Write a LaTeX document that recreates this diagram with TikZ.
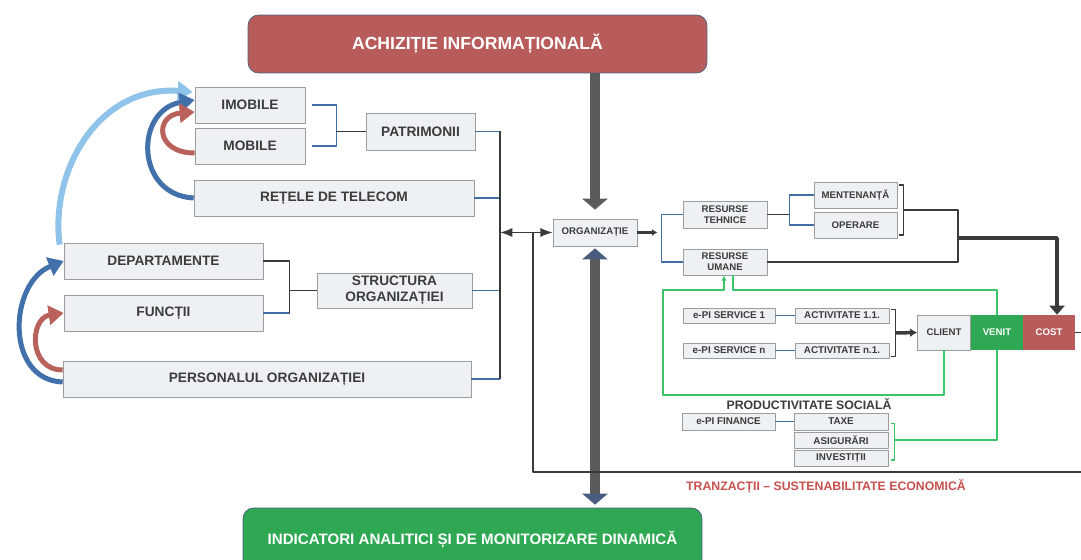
\documentclass[tikz,border=0pt]{standalone}
\usepackage{fontspec}
\setmainfont{Liberation Sans}
\usetikzlibrary{arrows.meta, calc}
\definecolor{titlered}{HTML}{B75C5B}
\definecolor{indgreen}{HTML}{2EA853}
\definecolor{boxfill}{HTML}{EEF1F3}
\definecolor{boxline}{HTML}{9C9C9C}
\definecolor{linkblue}{HTML}{3F6FA3}
\definecolor{linedark}{HTML}{3A3A3A}
\definecolor{fatgray}{HTML}{5B5B5B}
\definecolor{headblue}{HTML}{4A5C7E}
\definecolor{flowgreen}{HTML}{3BC46A}
\definecolor{arrowlight}{HTML}{8FC3EA}
\definecolor{arrowdark}{HTML}{4170AA}
\definecolor{arrowred}{HTML}{B9625C}
\definecolor{textred}{HTML}{C5504E}
\definecolor{textgray}{HTML}{3C3C3C}

\begin{document}
\begin{tikzpicture}[x=0.02cm, y=-0.02cm, >=Latex, line join=round,
	box/.style={draw=boxline, fill=boxfill, inner sep=0pt, text=textgray, align=center,
		font=\fontsize{7.8}{9}\selectfont\bfseries},
	smallbox/.style={box, font=\fontsize{5.5}{6.4}\selectfont\bfseries},
	tinybox/.style={box, font=\fontsize{5.6}{6.4}\selectfont\bfseries},
	banner/.style={draw=headblue, rounded corners=6pt, text=white, inner sep=0pt,
		minimum width=9.18cm},
	link/.style={draw=linkblue, line width=0.9pt},
	trunk/.style={draw=linedark, line width=0.9pt},
	greenlink/.style={draw=flowgreen, line width=0.9pt},
	heavy/.style={draw=linedark, line width=2pt},
	fat/.style={draw=fatgray, line width=0.2cm},
	swoosh/.style={line width=0.1cm, -{Triangle[width=0.38cm,length=0.3cm]}}]
\useasboundingbox (0,0) rectangle (1081,560);
%========================
% banners
%========================
\node[banner, fill=titlered, minimum height=1.16cm, font=\fontsize{10}{12}\selectfont\bfseries]
	(achizitie) at (477.5,44) {ACHIZIȚIE INFORMAȚIONALĂ};
\node[banner, fill=indgreen, minimum height=1.28cm, font=\fontsize{8.6}{10}\selectfont\bfseries]
	(indicatori) at (472.5,540) {INDICATORI ANALITICI ȘI DE MONITORIZARE DINAMICĂ};

%========================
% Left: patrimony and structure
%========================
\node[box, minimum width=2.2cm, minimum height=0.72cm] (imobile) at (250,105) {IMOBILE};
\node[box, minimum width=2.2cm, minimum height=0.72cm] (mobile) at (250,146) {MOBILE};
\node[box, minimum width=2.18cm, minimum height=0.74cm] (patrimonii) at (420.5,131.5) {PATRIMONII};
\node[box, minimum width=5.6cm, minimum height=0.72cm] (retele) at (334,198) {REȚELE DE TELECOM};
\node[box, minimum width=3.98cm, minimum height=0.72cm] (departamente) at (163.5,261) {DEPARTAMENTE};
\node[box, minimum width=3.98cm, minimum height=0.72cm] (functii) at (163.5,313) {FUNCȚII};
\node[box, minimum width=3.1cm, minimum height=0.7cm] (structura) at (394.5,290.5) {STRUCTURA\\ORGANIZAȚIEI};
\node[box, minimum width=8.16cm, minimum height=0.72cm] (personalul) at (267,379) {PERSONALUL ORGANIZAȚIEI};

% brackets
\draw[link] ([xshift=0.14cm]imobile.east) -- ++(24,0) |- ([xshift=0.14cm]mobile.east);
\draw[trunk] (patrimonii.west) -- ++(-30,0);
\draw[trunk] (departamente.east) -- ++(26,0) |- (functii.east);
\draw[trunk] (structura.west) -- ++(-28,0);
\draw[link] (functii.east) -- ++(26,0);

% bus to organization
\coordinate (bus) at (500,0);
\coordinate (loop) at (533,0);
\foreach \n in {patrimonii, retele, structura, personalul}
	\draw[link] (\n.east) -- (\n.east -| bus);
\draw[trunk] (patrimonii.east -| bus) -- (personalul.east -| bus);

% curved arrows
\draw[swoosh, arrowlight, line width=0.12cm] ([shift={(-4,2)}]departamente.north west)
	.. controls +(-10,-75) and +(-93,-7) .. ([shift={(-2,-13)}]imobile.west);
\draw[swoosh, arrowdark] (retele.west)
	.. controls +(-59,-3) and +(-60,10) .. ([shift={(0,-5)}]imobile.west);
\draw[swoosh, arrowred] ([shift={(0,7)}]mobile.west)
	.. controls +(-40,0) and +(-40,3) .. ([shift={(0,7)}]imobile.west);
\draw[swoosh, arrowdark] ([shift={(0,3)}]personalul.west)
	.. controls +(-58,-2) and +(-55,22) .. (departamente.west);
\draw[swoosh, arrowred] ([shift={(0,-9)}]personalul.west)
	.. controls +(-35,0) and +(-34,5) .. (functii.west);

%========================
% Centre: organization
%========================
\node[smallbox, minimum width=1.68cm, minimum height=0.54cm] (org) at (595,232.5) {ORGANIZAȚIE};
\draw[fat, -{Triangle[width=0.5cm,length=0.22cm]}, shorten >=0.18cm]
	(org.north |- achizitie.south) -- (org.north);
\draw[fat, {Triangle[width=0.5cm,length=0.22cm,color=headblue]}-{Triangle[width=0.5cm,length=0.22cm,color=headblue]}]
	([yshift=-0.04cm]org.south) -- ([yshift=0.06cm]org.south |- indicatori.north);
\draw[trunk, ->] (org.west -| loop) -- (org.west);
\draw[trunk, ->] (org.west -| loop) -- (org.west -| bus);

%========================
% Right: resources
%========================
\node[smallbox, minimum width=1.68cm, minimum height=0.54cm] (rtehnice) at (725,214.5) {RESURSE\\TEHNICE};
\node[smallbox, minimum width=1.68cm, minimum height=0.52cm] (rumane) at (725,262) {RESURSE\\UMANE};
\node[smallbox, minimum width=1.66cm, minimum height=0.52cm] (mentenanta) at (855.5,195) {MENTENANȚĂ};
\node[smallbox, minimum width=1.66cm, minimum height=0.52cm] (operare) at (855.5,225) {OPERARE};

\draw[heavy, -{Latex[length=3pt,width=4pt]}] (org.east) -- ++(20,0);
\draw[link] (rtehnice.west) -- ++(-21,0) |- (rumane.west);
\draw[trunk] (rtehnice.east) -- ++(23,0);
\draw[link] (mentenanta.west) -- ++(-24,0) |- (operare.west);
\draw[trunk] ([shift={(2,-10)}]mentenanta.east) -- ++(4,0) |- ([shift={(2,10)}]operare.east);

\node[tinybox, minimum width=1.84cm, minimum height=0.3cm] (service1) at (729,315.5) {e-PI SERVICE 1};
\node[tinybox, minimum width=1.88cm, minimum height=0.3cm] (activ1) at (842,315.5) {ACTIVITATE 1.1.};
\node[tinybox, minimum width=1.84cm, minimum height=0.3cm] (servicen) at (729,350.5) {e-PI SERVICE n};
\node[tinybox, minimum width=1.88cm, minimum height=0.3cm] (activn) at (842,350.5) {ACTIVITATE n.1.};
\draw[link] (service1.east) -- (activ1.west);
\draw[link] (servicen.east) -- (activn.west);
\draw[trunk] ([shift={(2,-6)}]activ1.east) -- ++(4,0) |- ([shift={(2,6)}]activn.east);

% client / venit / cost
\node[smallbox, minimum width=1.06cm, minimum height=0.7cm] (client) at (944,332.5) {CLIENT};
\node[smallbox, draw=none, fill=indgreen, text=white, minimum width=1.04cm, minimum height=0.7cm]
	(venit) at (997,332.5) {VENIT};
\node[smallbox, draw=none, fill=titlered, text=white, minimum width=1.04cm, minimum height=0.7cm]
	(cost) at (1049,332.5) {COST};
\draw[heavy, -{Latex[length=4pt,width=5pt]}] ($(activ1.east)!.5!(activn.east)+(6,0)$) -- (client.west);

\coordinate (merge) at (958,238);
\draw[trunk] ($(mentenanta.east)!.5!(operare.east)+(6,0)$) -| (merge) |- (rumane.east);
\draw[heavy, -{Triangle[width=0.3cm,length=0.18cm]}] (merge) -| ([xshift=0.16cm]cost.north);

% finance
\node[text=textgray, font=\fontsize{7}{8}\selectfont\bfseries] (productivitate) at (809,404) {PRODUCTIVITATE SOCIALĂ};
\node[tinybox, minimum width=1.86cm, minimum height=0.34cm] (finance) at (728.5,421.5) {e-PI FINANCE};
\node[tinybox, minimum width=1.88cm, minimum height=0.34cm] (taxe) at (841,421.5) {TAXE};
\node[tinybox, minimum width=1.88cm, minimum height=0.32cm] (asigurari) at (841,440) {ASIGURĂRI};
\node[tinybox, minimum width=1.88cm, minimum height=0.32cm] (investitii) at (841,458) {INVESTIȚII};
\draw[link] (finance.east) -- (taxe.west);

% green flows
\coordinate (gTL) at (663,290);
\coordinate (gBL) at (663,395);
\draw[greenlink, -{Latex[length=3pt,width=3pt]}] (client.south) |- (gBL) -- (gTL) -| ([xshift=-0.02cm]rumane.south);
\draw[greenlink] ([xshift=0.16cm]rumane.south) |- (venit.north |- gTL) -- (venit.north);
\draw[greenlink] ([shift={(3,2)}]taxe.east) -- ++(3,0) |- ([shift={(3,2)}]investitii.east);
\draw[greenlink] (venit.south) |- ([xshift=0.14cm]asigurari.east);

% transactions loop
\coordinate (edge) at (1081,0);
\coordinate (loopbot) at (533,472);
\draw[trunk] (cost.east) -- (cost.east -| edge);
\draw[trunk] (loopbot -| edge) -- (loopbot) -- (org.west -| loop);
\node[text=textred, font=\fontsize{7}{8}\selectfont\bfseries] (tranzactii) at (826,486)
	{TRANZACȚII – SUSTENABILITATE ECONOMICĂ};
\end{tikzpicture}
\end{document}
